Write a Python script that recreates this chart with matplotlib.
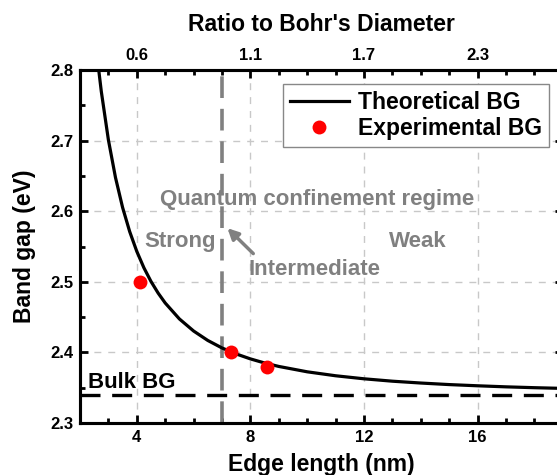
import numpy as np
import matplotlib
matplotlib.use("Agg")
import matplotlib.pyplot as plt
from matplotlib.ticker import MultipleLocator

# ---------- data ----------
edge_theory = [2.62, 2.75, 3.0, 3.25, 3.5, 3.75, 4.0, 4.25, 4.5, 4.75, 5.0,
               5.5, 6.0, 6.5, 7.0, 7.5, 8.0, 8.5, 9.0, 10.0, 11.0, 12.0,
               13.0, 14.0, 15.0, 16.0, 17.0, 18.0, 19.0]
bg_theory = [2.8134, 2.7698, 2.7011, 2.6477, 2.6053, 2.5711, 2.5431, 2.5199,
             2.5005, 2.4841, 2.4700, 2.4474, 2.4303, 2.4169, 2.4063, 2.3978,
             2.3908, 2.3850, 2.3801, 2.3725, 2.3669, 2.3626, 2.3592, 2.3566,
             2.3544, 2.3527, 2.3512, 2.3500, 2.3490]
edge_exp = [4.1, 7.3, 8.6]
bg_exp = [2.50, 2.40, 2.38]
bulk_bg = 2.34
bohr_diameter = 7.0
top_ticks = [4, 8, 12, 16]
top_ticklabels = ["0.6", "1.1", "1.7", "2.3"]

# ---------- style ----------
plt.rcParams.update({
    "font.family": "Liberation Sans", "font.weight": "bold",
    "axes.labelweight": "bold", "axes.linewidth": 2.2,
})
GRAY = "#808080"

fig = plt.figure(figsize=(5.57, 4.75), dpi=100)
ax = fig.add_axes([0.1436, 0.1095, 0.867, 0.743])

ax.set_xlim(2, 19)
ax.set_ylim(2.3, 2.8)
ax.grid(True, color="#c8c8c8", lw=1.0, ls=(0, (5, 5)))
ax.set_axisbelow(True)

ax.axvline(bohr_diameter, color=GRAY, lw=2.6, ls=(0, (6, 3)), zorder=2)
ax.axhline(bulk_bg, color="black", lw=2.4, ls=(0, (6, 3.5)), zorder=2)
ax.plot(edge_theory, bg_theory, color="black", lw=2.3, zorder=3,
        label="Theoretical BG")
ax.plot(edge_exp, bg_exp, "o", color="#ff0000", ms=10, mec="none", zorder=4,
        label="Experimental BG")

ax.xaxis.set_major_locator(MultipleLocator(4))
ax.xaxis.set_minor_locator(MultipleLocator(1))
ax.yaxis.set_major_locator(MultipleLocator(0.1))
ax.yaxis.set_minor_locator(MultipleLocator(0.05))
ax.tick_params(which="both", direction="in", right=True, width=2.0,
               labelsize=12, pad=5)
ax.tick_params(which="major", length=6)
ax.tick_params(which="minor", length=3.5)
ax.set_xlabel("Edge length (nm)", fontsize=16.5, labelpad=6)
ax.set_ylabel("Band gap (eV)", fontsize=16.5, labelpad=10)

# top axis: ratio to Bohr's diameter
top = ax.twiny()
top.set_xlim(ax.get_xlim())
top.set_xticks(top_ticks)
top.set_xticklabels(top_ticklabels)
top.xaxis.set_minor_locator(MultipleLocator(1))
top.tick_params(which="both", direction="in", width=2.0, labelsize=12, pad=5)
top.tick_params(which="major", length=6)
top.tick_params(which="minor", length=3.5)
top.set_xlabel("Ratio to Bohr's Diameter", fontsize=16.5, labelpad=12)

# annotations
ax.text(10.35, 2.616, "Quantum confinement regime", color=GRAY,
        fontsize=16, ha="center", va="center")
ax.text(5.52, 2.557, "Strong", color=GRAY, fontsize=16, ha="center", va="center")
ax.text(13.88, 2.557, "Weak", color=GRAY, fontsize=16, ha="center", va="center")
ax.text(10.27, 2.518, "Intermediate", color=GRAY, fontsize=16,
        ha="center", va="center")
ax.annotate("", xy=(7.19, 2.576), xytext=(8.1, 2.540),
            arrowprops=dict(arrowstyle="-|>", color=GRAY, lw=2.5,
                            mutation_scale=16, shrinkA=0, shrinkB=0))
ax.text(2.28, 2.358, "Bulk BG", color="black", fontsize=16,
        ha="left", va="center")

leg = ax.legend(loc="upper right", fontsize=16.5, frameon=True, fancybox=False,
                edgecolor="#888888", framealpha=1, borderaxespad=0.6,
                handlelength=2.6, handletextpad=0.4, borderpad=0.3,
                labelspacing=0.15, numpoints=1)
leg.get_frame().set_linewidth(1.0)

fig.savefig("out.png", dpi=100)
